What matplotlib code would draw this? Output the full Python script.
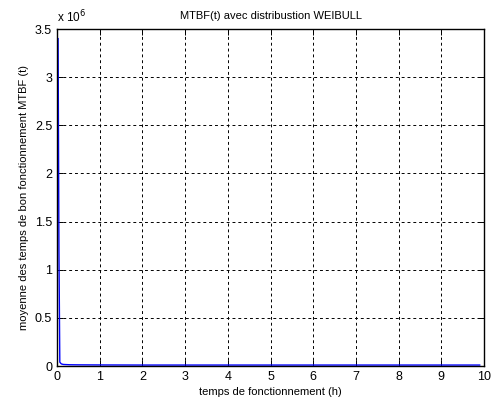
import matplotlib
matplotlib.use("Agg")
import matplotlib.pyplot as plt
from matplotlib.ticker import FixedLocator, FuncFormatter

plt.rcParams['font.family'] = ['Liberation Sans', 'DejaVu Sans']

t_hours = [0.025, 0.045, 0.065, 0.1, 0.15, 0.3, 0.5, 1, 2, 3, 4, 5, 6, 7, 8, 9, 9.9]
mtbf = [3.4e6, 1.2e6, 4.0e4, 2.2e4, 1.6e4, 1.3e4, 1.2e4, 1.1e4, 1.0e4, 1.0e4,
        1.0e4, 1.0e4, 1.0e4, 1.0e4, 1.0e4, 1.0e4, 1.0e4]
xticks = [0, 1, 2, 3, 4, 5, 6, 7, 8, 9, 10]
yticks = [0, 0.5e6, 1e6, 1.5e6, 2e6, 2.5e6, 3e6, 3.5e6]

fig = plt.figure(figsize=(4.92, 4.03), dpi=100)
ax = fig.add_axes([0.1159, 0.0918, 0.8678, 0.8362])
ax.plot(t_hours, mtbf, color='#0000ff', lw=1.0)
ax.set_xlim(0, 10)
ax.set_ylim(0, 3.5e6)
ax.xaxis.set_major_locator(FixedLocator(xticks))
ax.yaxis.set_major_locator(FixedLocator(yticks))
ax.xaxis.set_major_formatter(FuncFormatter(lambda v, p: f"{v:g}"))
ax.yaxis.set_major_formatter(FuncFormatter(lambda v, p: f"{v/1e6:g}"))
ax.grid(True, color='black', linestyle=(0, (3, 3)), linewidth=0.7)
ax.tick_params(direction='in', length=4, labelsize=9, width=0.7, top=True, right=True,
               labeltop=False, labelright=False)
for s in ax.spines.values():
    s.set_linewidth(1.0)
ax.set_title('MTBF(t) avec distribustion WEIBULL', fontsize=8, pad=7)
ax.set_xlabel('temps de fonctionnement (h)', fontsize=8, labelpad=3)
ax.set_ylabel('moyenne des temps de bon fonctionnement MTBF (t)', fontsize=8, labelpad=4)
ax.text(0.0, 1.012, r'x 10$^{6}$', transform=ax.transAxes, fontsize=8.5, ha='left', va='bottom')
fig.savefig('out.png', dpi=100)
